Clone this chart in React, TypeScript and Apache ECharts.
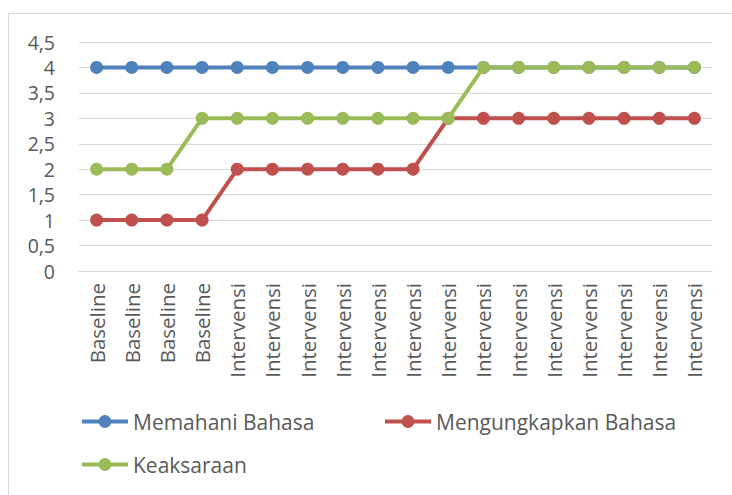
import React, { useEffect, useRef } from "react";
import * as echarts from "echarts";

const categories = [
  "Baseline", "Baseline", "Baseline", "Baseline",
  "Intervensi", "Intervensi", "Intervensi", "Intervensi", "Intervensi", "Intervensi", "Intervensi",
  "Intervensi", "Intervensi", "Intervensi", "Intervensi", "Intervensi", "Intervensi", "Intervensi",
];
const memahani = [4, 4, 4, 4, 4, 4, 4, 4, 4, 4, 4, 4, 4, 4, 4, 4, 4, 4];
const mengungkapkan = [1, 1, 1, 1, 2, 2, 2, 2, 2, 2, 3, 3, 3, 3, 3, 3, 3, 3];
const keaksaraan = [2, 2, 2, 3, 3, 3, 3, 3, 3, 3, 3, 4, 4, 4, 4, 4, 4, 4];
const seriesNames = ["Memahani Bahasa", "Mengungkapkan Bahasa", "Keaksaraan"];
const colors = ["#4f81bd", "#c0504d", "#9bbb59"];

const FONT = "'Open Sans', Lato, sans-serif";
const TEXT = "#595959";

export default function App() {
  const ref = useRef<HTMLDivElement>(null);
  useEffect(() => {
    document.body.style.margin = "0";
    const chart = echarts.init(ref.current!, null, { renderer: "svg" });
    const data = [memahani, mengungkapkan, keaksaraan];
    const legendText = { color: TEXT, fontSize: 21, fontFamily: FONT };
    const legendCommon = {
      itemWidth: 46,
      itemHeight: 16,
      textStyle: legendText,
      padding: 0,
      lineStyle: { width: 4 },
    };
    chart.setOption({
      animation: false,
      backgroundColor: "#ffffff",
      graphic: [
        {
          type: "rect",
          shape: { x: 8.5, y: 13.5, width: 760, height: 520 },
          style: { fill: "none", stroke: "#d9d9d9", lineWidth: 1 },
          silent: true,
        },
      ],
      grid: { left: 79, right: 20, top: 42, bottom: 224, containLabel: false },
      legend: [
        { ...legendCommon, data: [seriesNames[0]], left: 80, top: 411 },
        { ...legendCommon, data: [seriesNames[1]], left: 383, top: 411 },
        { ...legendCommon, data: [seriesNames[2]], left: 80, top: 454 },
      ],
      xAxis: {
        type: "category",
        data: categories,
        boundaryGap: true,
        axisLine: { show: true, lineStyle: { color: "#d9d9d9", width: 1 } },
        axisTick: { show: false },
        axisLabel: {
          rotate: 90,
          interval: 0,
          margin: 12,
          color: TEXT,
          fontSize: 20.5,
          fontFamily: FONT,
        },
      },
      yAxis: {
        type: "value",
        min: 0,
        max: 4.5,
        interval: 0.5,
        axisLine: { show: false },
        axisTick: { show: false },
        splitLine: { lineStyle: { color: "#d9d9d9", width: 1 } },
        axisLabel: {
          margin: 24,
          color: TEXT,
          fontSize: 19.5,
          fontFamily: FONT,
          formatter: (v: number) => String(v).replace(".", ","),
        },
      },
      series: seriesNames.map((name, i) => ({
        name,
        type: "line",
        data: data[i],
        symbol: "circle",
        symbolSize: 13,
        color: colors[i],
        itemStyle: { color: colors[i] },
        lineStyle: { color: colors[i], width: 4 },
        z: 2 + i,
      })),
    });
    return () => chart.dispose();
  }, []);
  return <div ref={ref} style={{ width: 732, height: 495 }} />;
}
